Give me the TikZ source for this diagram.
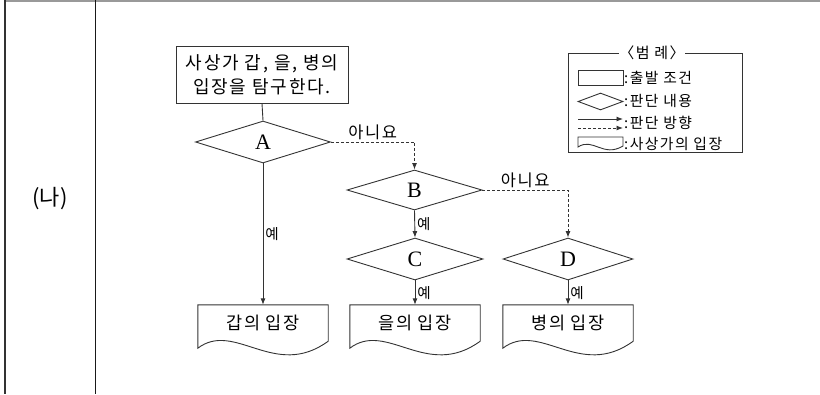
\documentclass[tikz,border=0pt]{standalone}
\usepackage{fontspec}
\setmainfont{Noto Sans CJK KR}[LetterSpace=10]
\newfontfamily\krplain{Noto Sans CJK KR}
\newfontfamily\serifA{Liberation Serif}
\usetikzlibrary{shapes.geometric,arrows.meta,calc}
\newcommand\docoutline[1]{%
  \draw[ln] (#1.north west) -- (#1.north east) -- (#1.south east)
    .. controls ([xshift=77pt,yshift=-39pt]#1.south west) and ([xshift=37pt,yshift=21pt]#1.south west)
    .. ([yshift=-7pt]#1.south west) -- cycle;}
\begin{document}
\begin{tikzpicture}[x=1pt,y=-1pt,
  ln/.style={draw=black!80, line width=0.9pt},
  arr/.style={ln, -{Latex[length=6.5pt,width=5pt]}},
  darr/.style={arr, dash pattern=on 3pt off 2pt},
  startbox/.style={ln, rectangle, minimum width=172pt, minimum height=57pt, align=center,
    font=\fontsize{18}{24}\selectfont, inner sep=0pt},
  dec/.style={ln, diamond, minimum width=135pt, minimum height=42pt, inner sep=0pt,
    font=\serifA\fontsize{22}{22}\selectfont},
  docnode/.style={rectangle, minimum width=130pt, minimum height=36pt, inner sep=0pt,
    font=\fontsize{17.5}{17.5}\selectfont},
  lbl/.style={font=\fontsize{14.5}{14.5}\selectfont, inner sep=2pt},
  nolbl/.style={font=\fontsize{16.5}{16.5}\selectfont, inner sep=2pt},
  legtxt/.style={anchor=west, inner sep=0pt, font=\fontsize{14.8}{14.8}\selectfont},
  legshape/.style={ln, inner sep=0pt}
]
\useasboundingbox (0,0) rectangle (820,394);
% table frame
\draw[black!40, line width=1.5pt] (4,0.75) -- (820,0.75);
\draw[black!80, line width=2pt] (4.5,0) -- (4.5,394);
\draw[black!90, line width=0.8pt] (95,0) -- (95,394);
\node[font=\krplain\fontsize{22}{22}\selectfont] (lab) at (50,199) {(나)};

% flowchart nodes
\node[startbox] (s) at (262,74.5) {사상가 갑, 을, 병의\\입장을 탐구한다.};
\node[dec] (a) at (263,142) {A};
\node[dec, minimum height=40pt] (b) at (414.5,190) {B};
\node[dec, minimum width=136pt] (c) at (415,259) {C};
\node[dec, minimum width=130pt] (d) at (568,259) {D};
\node[docnode] (d1) at (263,323) {갑의 입장};
\node[docnode] (d2) at (415,323) {을의 입장};
\node[docnode] (d3) at (568,323) {병의 입장};
\docoutline{d1}
\docoutline{d2}
\docoutline{d3}

% connectors
\draw[ln] (s.south) -- (a.north);
\draw[arr] (a.south) -- (d1.north) node[midway, right, lbl] {예};
\draw[darr] (a.east) -| (b.north) node[pos=0.25, above, nolbl] {아니요};
\draw[arr] (b.south) -- (c.north) node[midway, right, lbl] {예};
\draw[darr] (b.east) -| (d.north) node[pos=0.25, above, nolbl] {아니요};
\draw[arr] (c.south) -- (d2.north) node[midway, right, lbl] {예};
\draw[arr] (d.south) -- (d3.north) node[midway, right, lbl] {예};

% legend
\node[ln, rectangle, minimum width=174pt, minimum height=99pt, inner sep=0pt] (leg) at (655,102.5) {};
\node[fill=white, inner sep=0.5pt, font=\fontsize{15}{15}\selectfont] (legt) at (652,53) {〈범 례〉};
\node[legshape, rectangle, minimum width=45pt, minimum height=15pt] (lr) at (600.5,77.5) {};
\node[legshape, diamond, minimum width=45pt, minimum height=17pt] (ld) at (600.5,101.5) {};
\coordinate (la1) at (578,119);
\coordinate (la2) at (623,119);
\coordinate (lb1) at (578,128);
\coordinate (lb2) at (623,128);
\draw[arr] (la1) -- (la2);
\draw[darr] (lb1) -- (lb2);
\draw[ln] (578,137) -- (623,137) -- (623,146) .. controls (603,158) and (593,137) .. (578,147) -- cycle;
\node[legtxt] (t1) at (624,78) {:출발 조건};
\node[legtxt] (t2) at (624,101) {:판단 내용};
\node[legtxt] (t3) at (624,123) {:판단 방향};
\node[legtxt] (t4) at (624,144) {:사상가의 입장};
\end{tikzpicture}
\end{document}
